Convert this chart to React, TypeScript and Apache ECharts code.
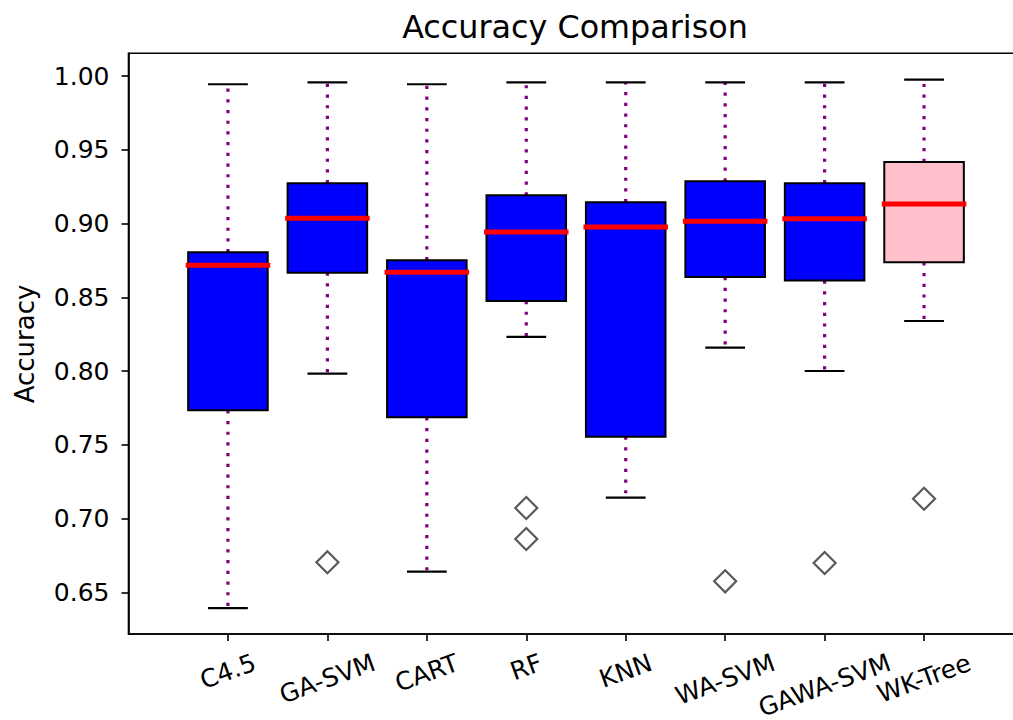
import React, { useEffect, useRef } from "react";
import * as echarts from "echarts";

// ---- data ----
const categories = ["C4.5", "GA-SVM", "CART", "RF", "KNN", "WA-SVM", "GAWA-SVM", "WK-Tree"];
const whiskerLow = [0.6393, 0.7982, 0.664, 0.8231, 0.7141, 0.8158, 0.8, 0.8339];
const q1 = [0.7734, 0.8667, 0.7686, 0.8475, 0.7555, 0.8637, 0.8613, 0.8737];
const median = [0.8717, 0.9035, 0.8669, 0.8943, 0.8976, 0.9015, 0.9033, 0.9132];
const q3 = [0.8805, 0.9273, 0.8751, 0.9191, 0.9144, 0.9286, 0.9273, 0.9417];
const whiskerHigh = [0.9944, 0.9957, 0.9944, 0.9957, 0.9957, 0.9957, 0.9957, 0.9975];
const outlierCategory = ["GA-SVM", "RF", "RF", "WA-SVM", "GAWA-SVM", "WK-Tree"];
const outlierValue = [0.6703, 0.7071, 0.6861, 0.6574, 0.6698, 0.7134];
const yTicks = [0.65, 0.7, 0.75, 0.8, 0.85, 0.9, 0.95, 1.0];

// ---- styles ----
const boxColors = ["#0000ff", "#0000ff", "#0000ff", "#0000ff", "#0000ff", "#0000ff", "#0000ff", "#ffc0cb"];
const FONT = "'DejaVu Sans', sans-serif";
const Y_MIN = 0.6217;
const Y_MAX = 1.0154;

const positions = categories.map((_, i) => i + 1);

function measure(text: string, size: number): number {
  const c = document.createElement("canvas").getContext("2d");
  if (!c) return text.length * size * 0.6;
  c.font = `${size}px "DejaVu Sans"`;
  return c.measureText(text).width;
}

export default function App() {
  const ref = useRef<HTMLDivElement>(null);
  useEffect(() => {
    if (!ref.current) return;
    const chart = echarts.init(ref.current, undefined, { renderer: "svg" });

    const boxData = categories.map((_, i) => [
      positions[i],
      whiskerLow[i],
      q1[i],
      median[i],
      q3[i],
      whiskerHigh[i],
    ]);
    const flierData = outlierCategory.map((c, i) => [categories.indexOf(c) + 1, outlierValue[i]]);
    const labelData = categories.map((_, i) => [positions[i], Y_MIN]);

    const boxRender = (params: any, api: any) => {
      const x = api.value(0);
      const lo = api.coord([x, api.value(1)]);
      const b1 = api.coord([x, api.value(2)]);
      const md = api.coord([x, api.value(3)]);
      const b3 = api.coord([x, api.value(4)]);
      const hi = api.coord([x, api.value(5)]);
      const half = api.size([0.8, 0])[0] / 2;
      const capHalf = api.size([0.4, 0])[0] / 2;
      const cx = lo[0];
      const dotted = { stroke: "#800080", lineWidth: 3.2, lineDash: [3.2, 7.5], lineCap: "butt" };
      const cap = { stroke: "#000", lineWidth: 2.2 };
      return {
        type: "group",
        children: [
          { type: "line", shape: { x1: cx, y1: b1[1], x2: cx, y2: lo[1] }, style: dotted },
          { type: "line", shape: { x1: cx, y1: b3[1], x2: cx, y2: hi[1] }, style: dotted },
          { type: "line", shape: { x1: cx - capHalf, y1: lo[1], x2: cx + capHalf, y2: lo[1] }, style: cap },
          { type: "line", shape: { x1: cx - capHalf, y1: hi[1], x2: cx + capHalf, y2: hi[1] }, style: cap },
          {
            type: "rect",
            shape: { x: cx - half, y: b3[1], width: half * 2, height: b1[1] - b3[1] },
            style: { fill: boxColors[params.dataIndex], stroke: "#000", lineWidth: 2 },
          },
          {
            type: "line",
            shape: { x1: cx - half, y1: md[1], x2: cx + half, y2: md[1] },
            style: { stroke: "#ff0000", lineWidth: 5, lineCap: "square" },
          },
        ],
      };
    };

    const labelSize = 25;
    const ang = (20 * Math.PI) / 180;
    const labelRender = (params: any, api: any) => {
      const p = api.coord([api.value(0), Y_MIN]);
      const text = categories[params.dataIndex];
      const w = measure(text, labelSize);
      const h = labelSize * 1.164;
      const H = w * Math.sin(ang) + h * Math.cos(ang);
      const cy = p[1] + 7 + 7 + H / 2;
      return {
        type: "text",
        x: p[0],
        y: cy,
        rotation: ang,
        style: {
          text,
          fontSize: labelSize,
          fontFamily: FONT,
          fill: "#000",
          align: "center",
          verticalAlign: "middle",
        },
      };
    };

    const option: any = {
      animation: false,
      backgroundColor: "#fff",
      grid: {
        left: 128.5,
        right: -10.5,
        top: 53.3,
        bottom: 86,
        show: true,
        borderColor: "#000",
        borderWidth: 1.6,
        backgroundColor: "transparent",
        outerBoundsMode: "none",
      },
      xAxis: {
        type: "value",
        min: 0,
        max: 9,
        axisLine: { show: true, onZero: false, lineStyle: { color: "#000", width: 1.6 } },
        axisTick: { show: true, length: 7, lineStyle: { color: "#000", width: 1.6 }, customValues: positions },
        axisLabel: { show: false },
        splitLine: { show: false },
      },
      yAxis: {
        type: "value",
        min: Y_MIN,
        max: Y_MAX,
        axisLine: { show: true, onZero: false, lineStyle: { color: "#000", width: 1.6 } },
        axisTick: { show: true, length: 7, lineStyle: { color: "#000", width: 1.6 }, customValues: yTicks },
        axisLabel: {
          show: true,
          customValues: yTicks,
          formatter: (v: number) => v.toFixed(2),
          fontSize: 25,
          fontFamily: FONT,
          color: "#000",
          margin: 19,
        },
        splitLine: { show: false },
      },
      graphic: [
        {
          type: "text",
          x: 575,
          y: 26,
          style: {
            text: "Accuracy Comparison",
            fontSize: 31.8,
            fontFamily: FONT,
            fill: "#000",
            align: "center",
            verticalAlign: "middle",
          },
        },
        {
          type: "text",
          x: 24.7,
          y: 344,
          rotation: Math.PI / 2,
          style: {
            text: "Accuracy",
            fontSize: 26,
            fontFamily: FONT,
            fill: "#000",
            align: "center",
            verticalAlign: "middle",
          },
        },
      ],
      series: [
        {
          type: "custom",
          name: "boxes",
          data: boxData,
          encode: { x: 0, y: [1, 2, 3, 4, 5] },
          renderItem: boxRender,
          clip: false,
          z: 2,
        },
        {
          type: "scatter",
          name: "outliers",
          data: flierData,
          symbol: "diamond",
          symbolSize: 22,
          itemStyle: { color: "rgba(0,0,0,0)", borderColor: "#2f2f2f", borderWidth: 2.2 },
          z: 3,
        },
        {
          type: "custom",
          name: "labels",
          data: labelData,
          encode: { x: 0, y: 1 },
          renderItem: labelRender,
          clip: false,
          z: 4,
        },
      ],
    };
    chart.setOption(option);
    return () => chart.dispose();
  }, []);

  return (
    <div
      ref={ref}
      style={{ position: "absolute", left: 0, top: 0, width: 1013, height: 720, background: "#fff" }}
    />
  );
}
